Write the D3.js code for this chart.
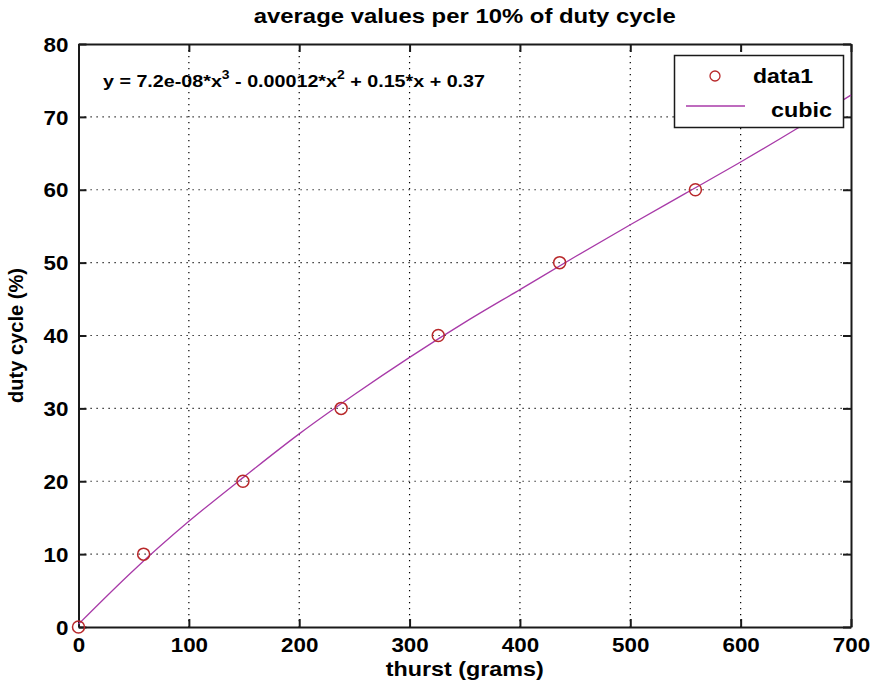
<!DOCTYPE html>
<html><head><meta charset="utf-8">
<script src="https://cdn.jsdelivr.net/npm/d3@7/dist/d3.min.js"></script>
<style>body{margin:0;background:#fff;} svg{display:block;font-family:"Liberation Sans",Arial,sans-serif;}</style>
</head><body><svg id="c" width="874" height="689"></svg>
<script>
// data points (thrust grams vs duty cycle %)
const dataX = [0, 59, 149, 238, 326, 436, 559];
const dataY = [0, 10, 20, 30, 40, 50, 60];
// cubic fit curve
const curveX = [0, 50, 100, 150, 200, 250, 300, 350, 400, 450, 500, 550, 600, 650, 700];
const curveY = [0.4, 7.8, 14.5, 20.6, 26.5, 31.9, 37.0, 41.8, 46.3, 50.8, 55.2, 59.5, 63.8, 68.3, 73.0];
const xTicks = [0, 100, 200, 300, 400, 500, 600, 700];
const yTicks = [0, 10, 20, 30, 40, 50, 60, 70, 80];
const title = "average values per 10% of duty cycle";
const xLabel = "thurst (grams)";
const yLabel = "duty cycle (%)";
const legendLabels = ["data1", "cubic"];

const svg = d3.select("#c");
const L = 78.5, R = 851, T = 44, B = 627;
const x = d3.scaleLinear().domain([0, 700]).range([L, R]);
const y = d3.scaleLinear().domain([0, 80]).range([B, T]);
const stretch = 1.12;
const ink = "#1a1a1a";

// grid
const g = svg.append("g");
g.selectAll("line.gx").data(xTicks.slice(1, -1)).join("line")
  .attr("x1", d => x(d)).attr("x2", d => x(d)).attr("y1", T).attr("y2", B)
  .attr("stroke", "#000").attr("stroke-width", 1.2).attr("stroke-dasharray", "1.2,4.8");
g.selectAll("line.gy").data(yTicks.slice(1, -1)).join("line")
  .attr("x1", L).attr("x2", R).attr("y1", d => y(d)).attr("y2", d => y(d))
  .attr("stroke", "#000").attr("stroke-width", 1.2).attr("stroke-dasharray", "1.2,4.8");

// axes with inward ticks on all sides
const tl = 8;
const axB = svg.append("g").attr("transform", `translate(0,${B})`)
  .call(d3.axisBottom(x).tickValues(xTicks).tickSizeInner(-tl).tickSizeOuter(0).tickPadding(11));
const axT = svg.append("g").attr("transform", `translate(0,${T})`)
  .call(d3.axisTop(x).tickValues(xTicks).tickSizeInner(-tl).tickSizeOuter(0).tickFormat(""));
const axL = svg.append("g").attr("transform", `translate(${L},0)`)
  .call(d3.axisLeft(y).tickValues(yTicks).tickSizeInner(-tl).tickSizeOuter(0).tickPadding(10));
const axR = svg.append("g").attr("transform", `translate(${R},0)`)
  .call(d3.axisRight(y).tickValues(yTicks).tickSizeInner(-tl).tickSizeOuter(0).tickFormat(""));
[axB, axT, axL, axR].forEach(a => {
  a.select(".domain").attr("stroke", ink).attr("stroke-width", 2);
  a.selectAll(".tick line").attr("stroke", ink).attr("stroke-width", 2);
  a.selectAll("text").attr("font-size", 20).attr("font-weight", "bold").attr("fill", "#000")
   .attr("font-family", "Liberation Sans, Arial, sans-serif");
});
axB.selectAll("text").attr("dy", "0.71em");
axL.selectAll("text").attr("dy", "0.36em");

// curve
const line = d3.line().x((d, i) => x(curveX[i])).y(d => y(d)).curve(d3.curveMonotoneX);
svg.append("path").datum(curveY).attr("d", line)
  .attr("fill", "none").attr("stroke", "#a83aa8").attr("stroke-width", 1.3);

// points
svg.selectAll("circle.pt").data(dataX).join("circle")
  .attr("cx", d => x(d)).attr("cy", (d, i) => y(dataY[i])).attr("r", 6)
  .attr("fill", "none").attr("stroke", "#b8282a").attr("stroke-width", 1.5);

// title & labels
svg.append("text").attr("x", (L + R) / 2).attr("y", 23).attr("text-anchor", "middle")
  .attr("font-size", 20).attr("font-weight", "bold").attr("textLength", 422).attr("lengthAdjust", "spacingAndGlyphs")
  .text(title);
svg.append("text").attr("x", (L + R) / 2).attr("y", 676).attr("text-anchor", "middle")
  .attr("font-size", 21).attr("font-weight", "bold").attr("textLength", 158).attr("lengthAdjust", "spacingAndGlyphs")
  .text(xLabel);
svg.append("text").attr("transform", `translate(23,${(T + B) / 2}) rotate(-90)`).attr("text-anchor", "middle")
  .attr("font-size", 20).attr("font-weight", "bold").attr("textLength", 135).attr("lengthAdjust", "spacingAndGlyphs")
  .text(yLabel);

// equation
const eq = svg.append("text").attr("x", 103).attr("y", 87).attr("font-size", 17).attr("font-weight", "bold");
eq.append("tspan").text("y = 7.2e-08*x");
eq.append("tspan").attr("dy", -8).attr("font-size", 12).text("3");
eq.append("tspan").attr("dy", 8).text(" - 0.00012*x");
eq.append("tspan").attr("dy", -8).attr("font-size", 12).text("2");
eq.append("tspan").attr("dy", 8).text(" + 0.15*x + 0.37");
{
  const w = eq.node().getComputedTextLength();
  if (w > 0) eq.attr("textLength", 382).attr("lengthAdjust", "spacingAndGlyphs");
}

// legend
const lg = svg.append("g");
lg.append("rect").attr("x", 674.5).attr("y", 55.5).attr("width", 169).attr("height", 72)
  .attr("fill", "#fff").attr("stroke", ink).attr("stroke-width", 1.5);
lg.append("circle").attr("cx", 715).attr("cy", 76).attr("r", 5)
  .attr("fill", "none").attr("stroke", "#b8282a").attr("stroke-width", 1.3);
lg.append("line").attr("x1", 686).attr("x2", 745).attr("y1", 106).attr("y2", 106)
  .attr("stroke", "#a83aa8").attr("stroke-width", 1.3);
lg.append("text").attr("x", 753).attr("y", 83).attr("font-size", 20).attr("font-weight", "bold")
  .attr("textLength", 60).attr("lengthAdjust", "spacingAndGlyphs").text(legendLabels[0]);
lg.append("text").attr("x", 771).attr("y", 117).attr("font-size", 20).attr("font-weight", "bold")
  .attr("textLength", 61).attr("lengthAdjust", "spacingAndGlyphs").text(legendLabels[1]);

// horizontal stretch of tick labels
svg.selectAll(".tick text").each(function () {
  const w = this.getComputedTextLength();
  if (w > 0) d3.select(this).attr("textLength", w * stretch).attr("lengthAdjust", "spacingAndGlyphs");
});
</script></body></html>
